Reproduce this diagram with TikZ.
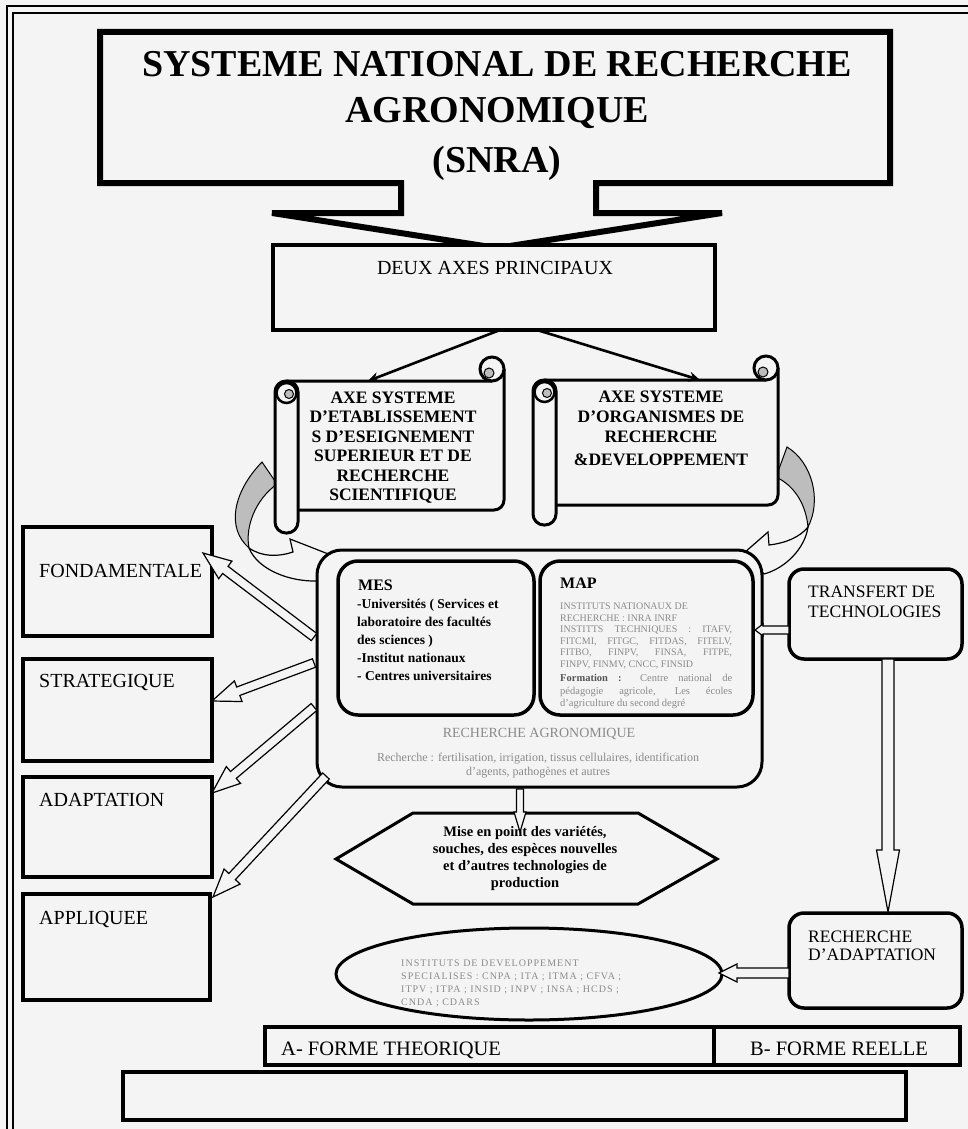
\documentclass[tikz,border=0pt]{standalone}
\usepackage{fontspec}
\setmainfont{Liberation Serif}
\newfontfamily\spacedserif[LetterSpace=10]{Liberation Serif}
\usetikzlibrary{calc,fit,shapes.geometric,arrows.meta}
\definecolor{bg}{HTML}{F4F4F4}
\definecolor{rollgray}{HTML}{BDBDBD}
\definecolor{softtext}{HTML}{8A8A8A}
\definecolor{darktext}{HTML}{555555}

\tikzset{
  boxline/.style={draw=black, line width=3.5pt, fill=bg, inner sep=0pt},
  roundbox/.style={boxline, rounded corners=15pt},
  sidelabel/.style={anchor=base west, inner sep=0pt, font=\fontsize{20}{24}\selectfont},
  hollow/.style={draw=black, line width=1.2pt, fill=bg, line join=miter},
  scrollline/.style={draw=black, line width=3pt},
  pointer/.style={draw=black, line width=2.6pt, -{Stealth[length=11pt,width=10pt]}},
  band/.style={draw=black, line width=1pt, fill=rollgray},
  txt/.style={inner sep=0pt},
}

% hollow block arrow: from, to, half shaft width, half head width, head length
\newcommand\hollowarrow[5]{%
  \path ($(#2)!#5pt!(#1)$) coordinate (hab);
  \draw[hollow] ($(#1)!#3pt!90:(#2)$) -- ($(hab)!#3pt!90:(#2)$) -- ($(hab)!#4pt!90:(#2)$)
    -- (#2) -- ($(hab)!#4pt!-90:(#2)$) -- ($(hab)!#3pt!-90:(#2)$) -- ($(#1)!#3pt!-90:(#2)$) -- cycle;
}

% scroll: left, top, right, bottom of sheet, foot of the roll
\newcommand\scrollshape[5]{%
  \fill[bg] (#1+11,#2) rectangle (#3,#4);
  \draw[scrollline, rounded corners=10pt] (#1+11,#2) -- (#3-12,#2) (#3,#2-12) -- (#3,#4) -- (#1+20,#4);
  \filldraw[scrollline, fill=bg] (#3-12,#2-12) circle (12pt);
  \filldraw[fill=rollgray, line width=1pt] (#3-15,#2-8) circle (5pt);
  \filldraw[scrollline, fill=bg, rounded corners=11pt] (#1,#2) rectangle (#1+23,#5);
  \draw[line width=2.5pt] (#1+11.5,#2+12) circle (10pt);
  \filldraw[fill=rollgray, line width=1pt] (#1+14,#2+13) circle (4.5pt);
}

\begin{document}
\begin{tikzpicture}[x=1pt,y=-1pt]
\fill[bg] (0,0) rectangle (968,1129);
\useasboundingbox (0,0) rectangle (968,1129);

% outer double frame
\draw[line width=2pt] (7,1140) -- (7,6) -- (980,6);
\draw[line width=2pt] (13,1140) -- (13,13) -- (980,13);

% title callout
\draw[line width=6pt, fill=bg, line join=miter] (100,32) -- (890,32) -- (890,183) -- (596,183)
  -- (596,213) -- (722,213) -- (497,248) -- (272,213) -- (401,213) -- (401,183) -- (100,183) -- cycle;
\node[txt, anchor=base, font=\fontsize{38}{40}\selectfont\bfseries] (t1) at (497,77) {SYSTEME NATIONAL DE RECHERCHE};
\node[txt, anchor=base, font=\fontsize{38}{40}\selectfont\bfseries] (t2) at (497,123) {AGRONOMIQUE};
\node[txt, anchor=base, font=\fontsize{38}{40}\selectfont\bfseries] (t3) at (497,172) {(SNRA)};

% two axes
\node[boxline, line width=4pt, fit={(273,245) (715,330)}] (deux) {};
\node[txt, anchor=base, font=\fontsize{20}{22}\selectfont] (deuxT) at (495,274) {DEUX AXES PRINCIPAUX};

% curved feed arrows
\filldraw[band] (262,462) .. controls (233,492) and (226,528) .. (249,548)
  .. controls (245,527) and (255,500) .. (277,484) -- cycle;
\filldraw[hollow] (249,548) .. controls (262,557) and (278,557) .. (293,552) -- (290,539) -- (336,557)
  -- (318,581) .. controls (290,582) and (258,570) .. (249,548) -- cycle;
\filldraw[band] (787,447) .. controls (812,462) and (822,500) .. (808,527)
  .. controls (806,505) and (795,486) .. (776,477) -- cycle;
\filldraw[hollow] (808,527) .. controls (800,537) and (786,543) .. (769,545) -- (768,532) -- (744,553)
  -- (764,574) .. controls (786,568) and (805,548) .. (808,527) -- cycle;

% scrolls
\scrollshape{275}{381}{504}{510}{533}
\scrollshape{533}{380}{778}{505}{525}
\node[txt, anchor=base] (axe1) at (393,403) {\parbox[t]{220pt}{\centering\bfseries\fontsize{17.5}{19.5}\selectfont
  AXE SYSTEME\\ D'ETABLISSEMENT\\ S D'ESEIGNEMENT\\ SUPERIEUR ET DE\\ RECHERCHE\\ SCIENTIFIQUE}};
\node[txt, anchor=base] (axe2) at (661,402) {\parbox[t]{220pt}{\centering\bfseries\fontsize{17.5}{20}\selectfont
  AXE SYSTEME\\ D'ORGANISMES DE\\ RECHERCHE\\[3pt] \&DEVELOPPEMENT}};

\coordinate (d1) at (500,330);
\coordinate (d2) at (537,330);
\coordinate (s1top) at (368,381);
\coordinate (s2top) at (700,380);
\draw[pointer] (d1) -- (s1top);
\draw[pointer] (d2) -- (s2top);

% central block
\node[boxline, line width=3pt, rounded corners=25pt, fit={(317,550) (762,787)}] (cbox) {};
\node[boxline, rounded corners=20pt, fit={(338,561) (534,715)}] (mes) {};
\node[boxline, rounded corners=20pt, fit={(540,561) (753,715)}] (map) {};
\node[txt, anchor=base west, font=\fontsize{16}{18}\selectfont\bfseries] (mesT) at (358,590) {MES};
\node[txt, anchor=base west] (mesL) at (357,608) {\parbox[t]{175pt}{\raggedright\bfseries\fontsize{13.5}{18}\selectfont
  -Universités ( Services et\\ laboratoire des facultés\\ des sciences )\\ -Institut nationaux\\ - Centres universitaires}};
\node[txt, anchor=base west, font=\fontsize{16}{18}\selectfont\bfseries] (mapT) at (560,588) {MAP};
\node[txt, anchor=base west] (mapL) at (560,603) {\parbox[t]{172pt}{\raggedright\fontsize{10}{11.5}\selectfont\color{softtext}
  INSTITUTS NATIONAUX DE\\
  RECHERCHE : INRA INRF\\
  \makebox[\linewidth][s]{INSTITTS TECHNIQUES : ITAFV,}\\
  \makebox[\linewidth][s]{FITCMI, FITGC, FITDAS, FITELV,}\\
  \makebox[\linewidth][s]{FITBO, FINPV, FINSA, FITPE,}\\
  FINPV, FINMV, CNCC, FINSID\par
  \vspace{2pt}\fontsize{10.5}{12.5}\selectfont
  \makebox[\linewidth][s]{\textcolor{darktext}{\textbf{Formation :}} Centre national de}\\
  \makebox[\linewidth][s]{pédagogie agricole, Les écoles}\\
  d'agriculture du second degré\par}};
\node[txt, anchor=base, font=\fontsize{14}{16}\selectfont, text=softtext] (recT) at (539,737) {RECHERCHE AGRONOMIQUE};
\node[txt, anchor=base] (recL) at (538,753) {\parbox[t]{400pt}{\centering\fontsize{12}{14}\selectfont\color{softtext}
  Recherche : fertilisation, irrigation, tissus cellulaires, identification\\ d'agents, pathogènes et autres}};

% kinds of research
\node[boxline, fit={(23,527) (212,636)}] (fond) {};
\node[boxline, fit={(23,659) (212,761)}] (strat) {};
\node[boxline, fit={(23,777) (212,877)}] (adapt) {};
\node[boxline, fit={(23,894) (210,1000)}] (appl) {};
\node[sidelabel] (fondT) at (39,577) {FONDAMENTALE};
\node[sidelabel] (stratT) at (39,687) {STRATEGIQUE};
\node[sidelabel] (adaptT) at (39,806) {ADAPTATION};
\node[sidelabel] (applT) at (39,924) {APPLIQUEE};

\coordinate (a1s) at (314,637); \coordinate (a1t) at (203,553);
\coordinate (a2s) at (314,663); \coordinate (a2t) at (212,701);
\coordinate (a3s) at (314,707); \coordinate (a3t) at (212,793);
\coordinate (a4s) at (326,776); \coordinate (a4t) at (213,897);
\hollowarrow{a1s}{a1t}{4.5}{11}{28}
\hollowarrow{a2s}{a2t}{4.5}{11}{28}
\hollowarrow{a3s}{a3t}{4.5}{11}{28}
\hollowarrow{a4s}{a4t}{4.5}{11}{28}

% products
\draw[line width=3pt, fill=bg] (336,859) -- (413,813) -- (638,813) -- (717,859) -- (638,904) -- (413,904) -- cycle;
\node[txt, anchor=base] (hexa) at (525,836) {\parbox[t]{240pt}{\centering\bfseries\fontsize{14.5}{17}\selectfont
  Mise en point des variétés,\\ souches, des espèces nouvelles\\ et d'autres technologies de\\ production}};
\coordinate (hx1) at (520,789);
\coordinate (hx2) at (520,832);
\hollowarrow{hx1}{hx2}{3.5}{6}{20}

% transfer side
\node[roundbox, fit={(789,569) (962,659)}] (transf) {};
\node[txt, anchor=base west] (transfT) at (808,597) {\parbox[t]{150pt}{\raggedright\fontsize{17.5}{20}\selectfont TRANSFERT DE\\ TECHNOLOGIES}};
\node[roundbox, fit={(789,913) (962,1008)}] (rda) {};
\node[txt, anchor=base west] (rdaT) at (808,942) {\parbox[t]{150pt}{\raggedright\fontsize{17.5}{18}\selectfont RECHERCHE\\ D'ADAPTATION}};
\node[draw, ellipse, line width=3pt, fill=bg, minimum width=386pt, minimum height=92pt, inner sep=0pt] (inst) at (529,974) {};
\node[txt, anchor=base west] (instT) at (401,960) {\parbox[t]{260pt}{\raggedright\spacedserif\fontsize{10}{13}\selectfont\color{softtext}
  INSTITUTS DE DEVELOPPEMENT\\ SPECIALISES : CNPA ; ITA ; ITMA ; CFVA ;\\ ITPV ; ITPA ; INSID ; INPV ; INSA ; HCDS ;\\ CNDA ; CDARS}};

\coordinate (tr1) at (789,630); \coordinate (tr2) at (755,630);
\coordinate (tr3) at (888,659); \coordinate (tr4) at (888,912);
\coordinate (rd1) at (789,973); \coordinate (rd2) at (719,973);
\hollowarrow{tr1}{tr2}{4}{6}{8}
\hollowarrow{tr3}{tr4}{6}{11.5}{62}
\hollowarrow{rd1}{rd2}{5}{9}{18}

% bottom strip
\node[boxline, fit={(265,1027) (714,1065)}] (formeA) {};
\node[boxline, fit={(714,1027) (960,1065)}] (formeB) {};
\node[txt, anchor=base west, font=\fontsize{20.5}{22}\selectfont] (formeAT) at (281,1055) {A- FORME THEORIQUE};
\node[txt, anchor=base, font=\fontsize{20.5}{22}\selectfont] (formeBT) at (839,1055) {B- FORME REELLE};
\node[boxline, fit={(123,1072) (906,1120)}] (blank) {};
\end{tikzpicture}
\end{document}
